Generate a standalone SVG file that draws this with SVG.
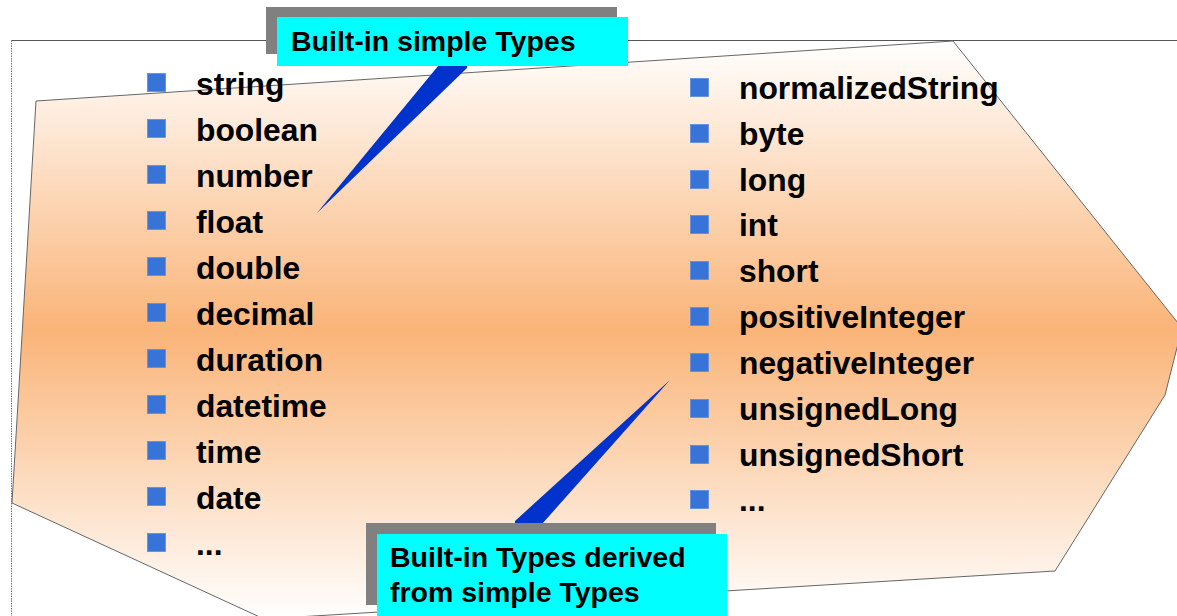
<svg xmlns="http://www.w3.org/2000/svg" width="1177" height="616" viewBox="0 0 1177 616">
<defs>
<linearGradient id="og" gradientUnits="userSpaceOnUse" x1="0" y1="41" x2="0" y2="619">
<stop offset="0" stop-color="#ffffff"/>
<stop offset="0.5" stop-color="#fab478"/>
<stop offset="1" stop-color="#ffffff"/>
</linearGradient>
<style>
.it{font-family:"Liberation Sans",Arial,sans-serif;font-weight:bold;font-size:31.8px;fill:#000}
.lb{font-family:"Liberation Sans",Arial,sans-serif;font-weight:bold;font-size:28.5px;fill:#000}
.bl{fill:#3874d8;stroke:#5a8ee0;stroke-width:0.8}
.sh{fill:#808080}
.cy{fill:#00ffff}
.wd{fill:#0033cc}
</style>
</defs>
<rect width="1177" height="616" fill="#ffffff"/>
<g id="frame">
<line x1="11.5" y1="40.5" x2="1177" y2="40.5" stroke="#555" stroke-width="1"/>
<line x1="11.5" y1="40.5" x2="11.5" y2="616" stroke="#777" stroke-width="1" stroke-dasharray="1.5,1"/>
</g>
<g id="shape">
<polygon points="36,101 953,41 1182,328 1165,395 1055,571 264,619 12,503" fill="url(#og)" stroke="#666" stroke-width="1"/>
</g>
<g id="left-list">
<rect class="bl" x="147.5" y="73.5" width="18" height="18"/><text class="it" x="196" y="94.5">string</text>
<rect class="bl" x="147.5" y="119.5" width="18" height="18"/><text class="it" x="196" y="140.5">boolean</text>
<rect class="bl" x="147.5" y="165.5" width="18" height="18"/><text class="it" x="196" y="186.5">number</text>
<rect class="bl" x="147.5" y="211.5" width="18" height="18"/><text class="it" x="196" y="232.5">float</text>
<rect class="bl" x="147.5" y="257.5" width="18" height="18"/><text class="it" x="196" y="278.5">double</text>
<rect class="bl" x="147.5" y="303.5" width="18" height="18"/><text class="it" x="196" y="324.5">decimal</text>
<rect class="bl" x="147.5" y="349.5" width="18" height="18"/><text class="it" x="196" y="370.5">duration</text>
<rect class="bl" x="147.5" y="395.5" width="18" height="18"/><text class="it" x="196" y="416.5">datetime</text>
<rect class="bl" x="147.5" y="441.5" width="18" height="18"/><text class="it" x="196" y="462.5">time</text>
<rect class="bl" x="147.5" y="487.5" width="18" height="18"/><text class="it" x="196" y="508.5">date</text>
<rect class="bl" x="147.5" y="533.5" width="18" height="18"/><text class="it" x="196" y="554.5">...</text>
</g>
<g id="right-list">
<rect class="bl" x="690.5" y="78.5" width="18" height="18"/><text class="it" x="739" y="98.5">normalizedString</text>
<rect class="bl" x="690.5" y="124.5" width="18" height="18"/><text class="it" x="739" y="144.5">byte</text>
<rect class="bl" x="690.5" y="170.5" width="18" height="18"/><text class="it" x="739" y="190.5">long</text>
<rect class="bl" x="690.5" y="215.5" width="18" height="18"/><text class="it" x="739" y="236">int</text>
<rect class="bl" x="690.5" y="261.5" width="18" height="18"/><text class="it" x="739" y="282">short</text>
<rect class="bl" x="690.5" y="307.5" width="18" height="18"/><text class="it" x="739" y="328">positiveInteger</text>
<rect class="bl" x="690.5" y="353.5" width="18" height="18"/><text class="it" x="739" y="374">negativeInteger</text>
<rect class="bl" x="690.5" y="399.5" width="18" height="18"/><text class="it" x="739" y="420">unsignedLong</text>
<rect class="bl" x="690.5" y="445.5" width="18" height="18"/><text class="it" x="739" y="466">unsignedShort</text>
<rect class="bl" x="690.5" y="490.5" width="18" height="18"/><text class="it" x="739" y="511">...</text>
</g>
<g id="connectors">
<polygon class="wd" points="443,60 468,60 467,68 317,213"/>
<polygon class="wd" points="670,380 515,521 515,528 545,528 542,524"/>
</g>
<g id="label-simple">
<rect class="sh" x="266" y="7" width="351" height="47"/>
<rect class="cy" x="277" y="17" width="351" height="49"/>
<text class="lb" x="291" y="51">Built-in simple Types</text>
</g>
<g id="label-derived">
<rect class="sh" x="366" y="523" width="350" height="82"/>
<rect class="cy" x="377" y="534" width="350" height="84"/>
<text class="lb" x="390" y="567">Built-in Types derived</text>
<text class="lb" x="390" y="602">from simple Types</text>
</g>
</svg>
